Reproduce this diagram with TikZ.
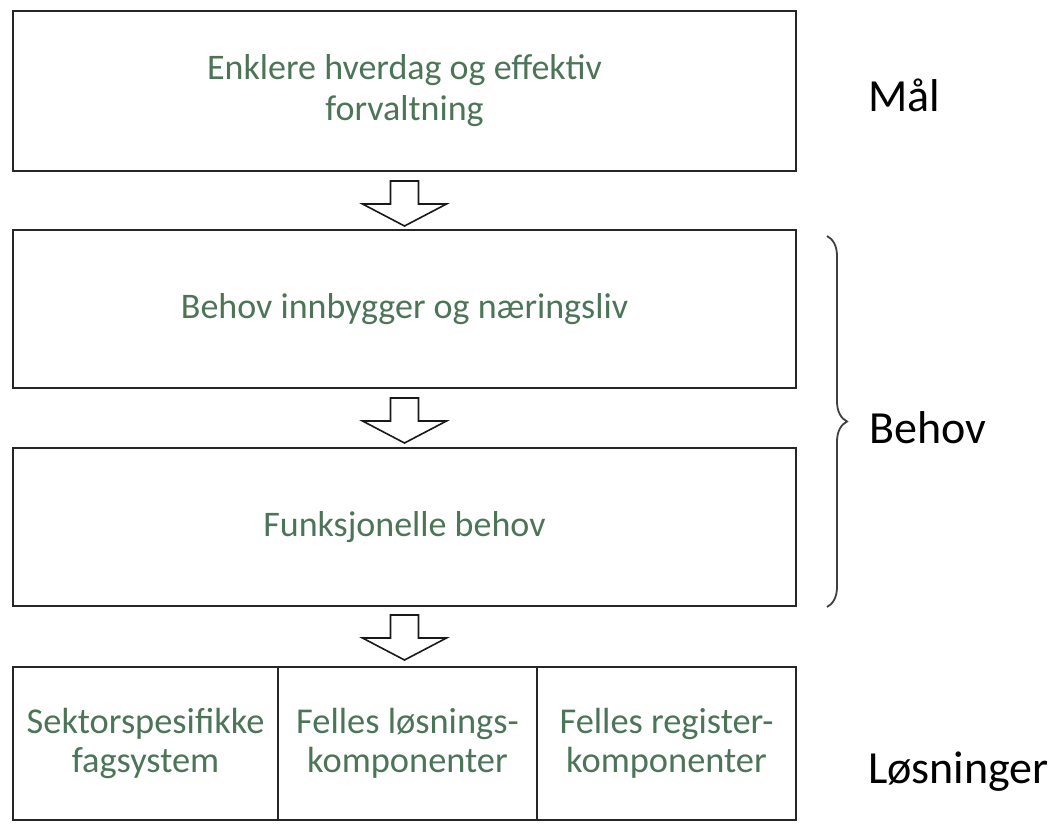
\documentclass[tikz,border=0pt]{standalone}
\usepackage{fontspec}
\setmainfont{Carlito}
\usetikzlibrary{positioning,calc,decorations.pathreplacing}
\definecolor{textgreen}{RGB}{76,117,87}
\tikzset{
  box/.style={draw=black!85,line width=1.1pt,outer sep=0pt,align=center,
    text=textgreen,font=\fontsize{18}{20.5}\selectfont},
  cell/.style={box,minimum height=76.5pt,font=\fontsize{18.2}{19.5}\selectfont},
  label/.style={anchor=base west,font=\fontsize{23}{26}\selectfont},
  arrowline/.style={draw=black!90,line width=0.8pt,fill=white},
  downarr/.pic={\draw[arrowline] (-14,0) -- (14,0) -- (14,23) -- (42,23) -- (0,45) -- (-42,23) -- (-14,23) -- cycle;}
}
\begin{document}
\begin{tikzpicture}[x=0.5pt,y=-0.5pt]
\useasboundingbox (0,0) rectangle (1060,824);
\node[box,minimum width=391.5pt,minimum height=80pt] (mal) at (404.5,91) {Enklere hverdag og effektiv\\forvaltning};
\node[box,minimum width=391.5pt,minimum height=79pt] (innbygger) at (404.5,309) {Behov innbygger og næringsliv};
\node[box,minimum width=391.5pt,minimum height=79pt] (funksjon) at (404.5,527) {Funksjonelle behov};
\node[cell,minimum width=132.5pt] (fagsystem) at (145.5,743.5) {Sektorspesifikke\\fagsystem};
\node[cell,minimum width=129.5pt,right=0pt of fagsystem] (loesning) {Felles løsnings-\\komponenter};
\node[cell,minimum width=129.5pt,right=0pt of loesning] (register) {Felles register-\\komponenter};
\pic at ($(mal.south)+(0,10)$) {downarr};
\pic at ($(innbygger.south)+(0,10)$) {downarr};
\pic at ($(funksjon.south)+(0,9)$) {downarr};
\coordinate (bracetop) at (827,236);
\coordinate (bracebot) at (827,607);
\draw[black!75,line width=0.9pt,decorate,decoration={brace,amplitude=10pt}] (bracetop) -- (bracebot);
\node[label] (lblmal) at (861,112) {Mål};
\node[label] (lblbehov) at (862,443) {Behov};
\node[label] (lblloesning) at (861,783) {Løsninger};
\end{tikzpicture}
\end{document}
